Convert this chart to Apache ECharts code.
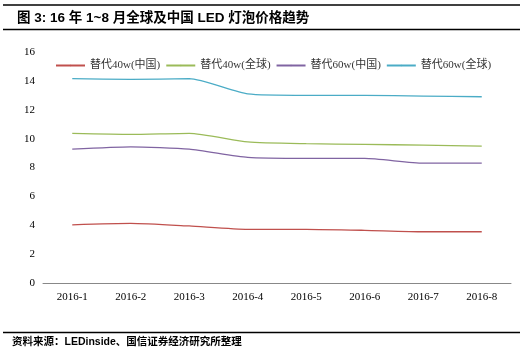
<!DOCTYPE html>
<html>
<head>
<meta charset="utf-8">
<script src="https://cdn.jsdelivr.net/npm/echarts@6/dist/echarts.min.js"></script>
<style>
html, body { margin: 0; padding: 0; background: #fff; }
#main { width: 528px; height: 352px; }
</style>
</head>
<body>
<div id="main"></div>
<script>
var months = ['2016-1', '2016-2', '2016-3', '2016-4', '2016-5', '2016-6', '2016-7', '2016-8'];
var names = ['替代40w(中国)', '替代40w(全球)', '替代60w(中国)', '替代60w(全球)'];
var w40cn = [4.03, 4.13, 3.95, 3.72, 3.72, 3.65, 3.55, 3.55];
var w40gl = [10.36, 10.29, 10.36, 9.78, 9.65, 9.6, 9.55, 9.48];
var w60cn = [9.27, 9.43, 9.27, 8.7, 8.63, 8.63, 8.3, 8.3];
var w60gl = [14.15, 14.1, 14.15, 13.1, 13.0, 13.0, 12.95, 12.9];
var colors = ['#C0504D', '#9BBB59', '#8064A2', '#4BACC6'];

var font = '"Liberation Serif", "Noto Sans CJK SC", serif';
var myChart = echarts.init(document.getElementById('main'));

function mk(i, data) {
	return {
		name: names[i],
		type: 'line',
		data: data,
		symbol: 'none',
		smooth: 0.2,
		lineStyle: { width: 1.3, color: colors[i] },
		itemStyle: { color: colors[i] }
	};
}

var option = {
	animation: false,
	backgroundColor: '#fff',
	title: {
		text: '图 3: 16 年 1~8 月全球及中国 LED 灯泡价格趋势',
		left: 12,
		top: 7,
		textStyle: { fontSize: 13.5, fontWeight: 'bold', color: '#000', fontFamily: 'Arial, "Noto Sans CJK SC", sans-serif' }
	},
	legend: {
		data: names,
		left: 50,
		top: 55,
		width: 480,
		itemWidth: 29,
		itemHeight: 2,
		itemGap: 5,
		textStyle: { fontSize: 11, color: '#333', fontFamily: font }
	},
	grid: { left: 43, right: 17, top: 52, bottom: 69, containLabel: false },
	xAxis: {
		type: 'category',
		data: months,
		boundaryGap: true,
		axisLine: { lineStyle: { color: '#888', width: 1 } },
		axisTick: { length: 4, lineStyle: { color: '#888' } },
		axisLabel: { fontSize: 11, color: '#000', margin: 9, fontFamily: font }
	},
	yAxis: {
		type: 'value',
		min: 0,
		max: 16,
		interval: 2,
		axisLine: { show: false },
		axisTick: { show: false },
		splitLine: { show: false },
		axisLabel: { fontSize: 11, color: '#000', margin: 8, fontFamily: font }
	},
	series: [mk(0, w40cn), mk(1, w40gl), mk(2, w60cn), mk(3, w60gl)],
	graphic: [
		{ type: 'line', shape: { x1: 3, y1: 5, x2: 520, y2: 5 }, style: { stroke: '#000', lineWidth: 1.5 } },
		{ type: 'line', shape: { x1: 3, y1: 29.5, x2: 520, y2: 29.5 }, style: { stroke: '#000', lineWidth: 1.5 } },
		{ type: 'line', shape: { x1: 3, y1: 332.5, x2: 520, y2: 332.5 }, style: { stroke: '#000', lineWidth: 1.5 } },
		{
			type: 'text', left: 12, top: 337,
			style: { text: '资料来源：LEDinside、国信证券经济研究所整理', fill: '#000', font: 'bold 10.5px Arial, "Noto Sans CJK SC", sans-serif' }
		}
	]
};
myChart.setOption(option);
</script>
</body>
</html>
